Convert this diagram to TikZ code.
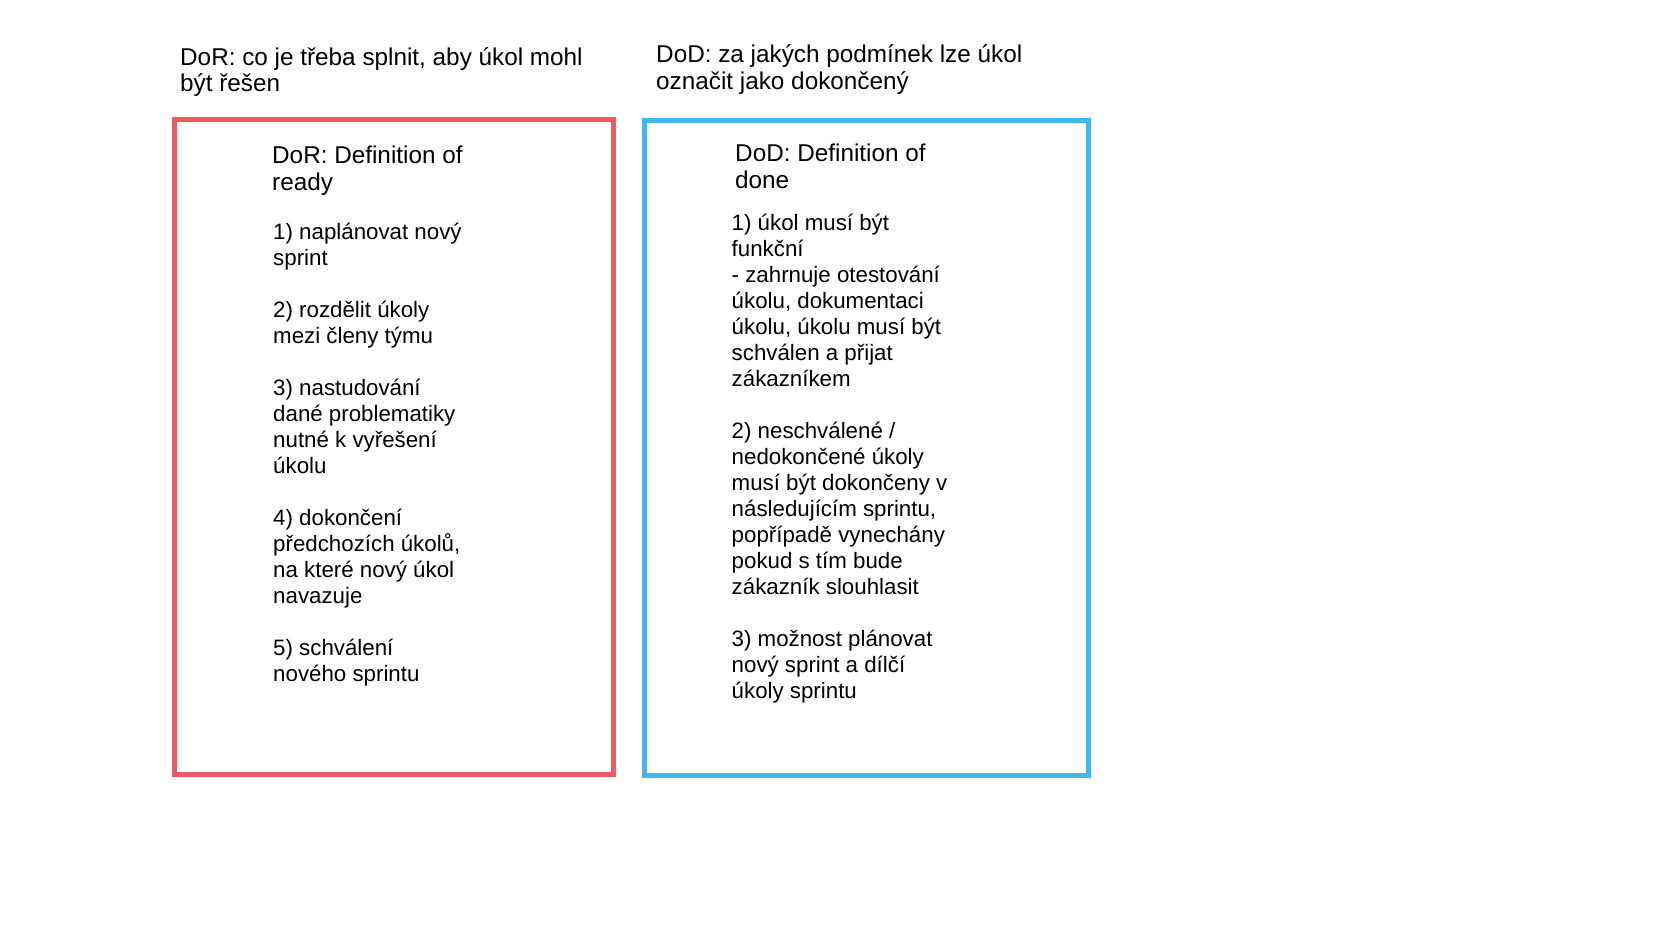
\documentclass[tikz,border=0pt]{standalone}
\usepackage{fontspec}
\setmainfont{Liberation Sans}
\usepackage{tikz}
\definecolor{dorred}{RGB}{242,88,96}
\definecolor{dodblue}{RGB}{64,185,236}
\newcommand{\pgap}{\\[26pt]}

\begin{document}
\begin{tikzpicture}[x=1pt,y=-1pt,
    tnode/.style={anchor=base west,inner sep=0pt,align=left,font=\fontsize{22.3}{26}\selectfont},
    hnode/.style={tnode,font=\fontsize{24.3}{26.7}\selectfont},
    rbox/.style={draw=dorred,line width=5pt},
    bbox/.style={draw=dodblue,line width=5pt}]
    \useasboundingbox (0,0) rectangle (1653,934);

    % headings above the boxes (anchor = last line)
    \node[hnode] (hl) at (180,91.7) {DoR: co je třeba splnit, aby úkol mohl\\být řešen};
    \node[hnode] (hr) at (656,89.5) {DoD: za jakých podmínek lze úkol\\označit jako dokončený};

    \draw[rbox] (174.5,119.5) rectangle (613.5,774.5);
    \draw[bbox] (644.5,120.5) rectangle (1088.5,775.5);

    \node[hnode] (tl) at (272,190.3) {DoR: Definition of\\ready};
    \node[tnode] (bl) at (273,681) {1) naplánovat nový\\sprint\pgap
        2) rozdělit úkoly\\mezi členy týmu\pgap
        3) nastudování\\dané problematiky\\nutné k vyřešení\\úkolu\pgap
        4) dokončení\\předchozích úkolů,\\na které nový úkol\\navazuje\pgap
        5) schválení\\nového sprintu};

    \node[hnode] (tr) at (735,188.2) {DoD: Definition of\\done};
    \node[tnode] (br) at (731.5,698.7) {1) úkol musí být\\funkční\\- zahrnuje otestování\\úkolu, dokumentaci\\úkolu, úkolu musí být\\schválen a přijat\\zákazníkem\pgap
        2) neschválené /\\nedokončené úkoly\\musí být dokončeny v\\následujícím sprintu,\\popřípadě vynechány\\pokud s tím bude\\zákazník slouhlasit\pgap
        3) možnost plánovat\\nový sprint a dílčí\\úkoly sprintu};
\end{tikzpicture}
\end{document}
